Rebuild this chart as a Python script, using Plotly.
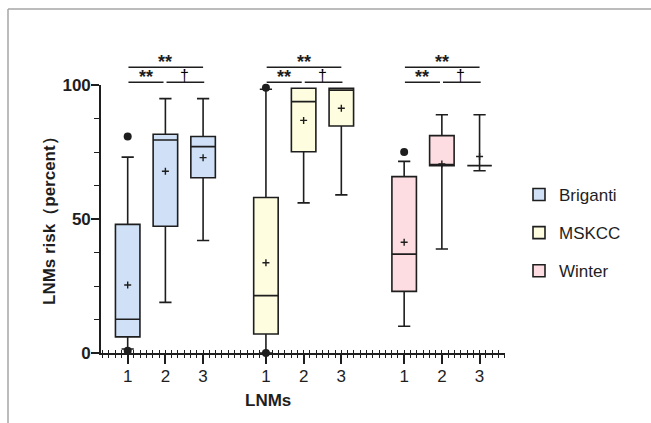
import plotly.graph_objects as go

# ---------------- data ----------------
models = ["Briganti", "MSKCC", "Winter"]
lnm_labels = ["1", "2", "3"]

briganti_q1 = [6.0, 47.3, 65.4]
briganti_median = [12.6, 79.5, 77.0]
briganti_q3 = [48.0, 81.6, 80.8]
briganti_low = [1.5, 18.9, 42.0]
briganti_high = [73.1, 94.9, 94.9]
briganti_mean = [25.4, 67.8, 72.9]
briganti_outliers = [[80.8, 0.8], [], []]

mskcc_q1 = [7.1, 75.1, 84.7]
mskcc_median = [21.4, 93.8, 98.1]
mskcc_q3 = [58.0, 98.8, 98.8]
mskcc_low = [0.0, 56.0, 59.0]
mskcc_high = [98.4, 98.8, 98.8]
mskcc_mean = [33.7, 86.8, 91.3]
mskcc_outliers = [[99.0, 0.0], [], []]

winter_q1 = [23.0, 69.9, 69.9]
winter_median = [36.9, 69.9, 69.9]
winter_q3 = [65.8, 81.1, 69.9]
winter_low = [10.0, 38.8, 68.0]
winter_high = [71.5, 88.9, 88.9]
winter_mean = [41.3, 70.5, 73.3]
winter_outliers = [[75.0], [], []]

# significance labels per group: (1 vs 3, 1 vs 2, 2 vs 3)
sig_top = ["**", "**", "**"]
sig_left = ["**", "**", "**"]
sig_right = ["†", "†", "†"]

# ---------------- styling ----------------
fills = ["#cfe0f7", "#fefde0", "#fddde1"]
ink = "#1e1e1e"
group_step = 11 / 3  # distance between group centres (in box units)

series = [
    (briganti_q1, briganti_median, briganti_q3, briganti_low, briganti_high, briganti_mean, briganti_outliers),
    (mskcc_q1, mskcc_median, mskcc_q3, mskcc_low, mskcc_high, mskcc_mean, mskcc_outliers),
    (winter_q1, winter_median, winter_q3, winter_low, winter_high, winter_mean, winter_outliers),
]

fig = go.Figure()
all_pos = []
for gi, (name, s) in enumerate(zip(models, series)):
    q1, med, q3, lo, hi, mean, outl = s
    xs = [gi * group_step + k for k in range(len(lnm_labels))]
    all_pos += xs
    fig.add_trace(go.Box(
        name=name, x=xs, q1=q1, median=med, q3=q3,
        lowerfence=lo, upperfence=hi,
        width=0.65, whiskerwidth=0.5,
        fillcolor=fills[gi], line=dict(color=ink, width=1.6),
        boxpoints=False, legendgroup=name, hoverinfo="skip",
    ))
    # means as "+"
    fig.add_trace(go.Scatter(
        x=xs, y=mean, mode="markers", showlegend=False, cliponaxis=False,
        marker=dict(symbol="cross-thin", size=5, line=dict(color=ink, width=1.4)),
        hoverinfo="skip",
    ))
    # outliers
    ox, oy = [], []
    for k, vals in enumerate(outl):
        for v in vals:
            ox.append(xs[k])
            oy.append(v)
    if ox:
        fig.add_trace(go.Scatter(
            x=ox, y=oy, mode="markers", showlegend=False, cliponaxis=False,
            marker=dict(symbol="circle", size=8, color=ink),
            hoverinfo="skip",
        ))

# ---------------- layout geometry ----------------
W, H = 651, 423
L, R, T, B = 101, 146, 85, 70
pw, ph = W - L - R, H - T - B
xmin, xmax = -0.708, 10.008

def px_to_paper_x(px):
    return (px - L) / pw

def px_to_paper_y(py):
    return (H - B - py) / ph

shapes = []
annotations = []
y_top = 1.066
y_low = 1.010
for gi in range(len(models)):
    c0 = gi * group_step
    for (a, b, yy) in [(0.02, 2.0, y_top), (0.02, 0.95, y_low), (1.03, 2.03, y_low)]:
        shapes.append(dict(type="line", xref="x", yref="paper",
                           x0=c0 + a, x1=c0 + b, y0=yy, y1=yy,
                           line=dict(color=ink, width=1.4)))
    annotations.append(dict(x=c0 + 1.0, y=y_top, xref="x", yref="paper", text="<b>" + sig_top[gi] + "</b>",
                            showarrow=False, yanchor="bottom", yshift=-7,
                            font=dict(size=18, color=ink, family="Arial")))
    annotations.append(dict(x=c0 + 0.48, y=y_low, xref="x", yref="paper", text="<b>" + sig_left[gi] + "</b>",
                            showarrow=False, yanchor="bottom", yshift=-7,
                            font=dict(size=18, color=ink, family="Arial")))
    annotations.append(dict(x=c0 + 1.5, y=y_low, xref="x", yref="paper", text=sig_right[gi],
                            showarrow=False, yanchor="bottom", yshift=-4,
                            font=dict(size=16, color="#000000", family="Liberation Sans")))

# axis titles (annotations, placed like the original)
annotations.append(dict(x=px_to_paper_x(268), y=px_to_paper_y(400), xref="paper", yref="paper",
                        text="<b>LNMs</b>", showarrow=False, yanchor="middle", xanchor="center",
                        font=dict(size=17, color=ink, family="Arial")))
annotations.append(dict(x=px_to_paper_x(49), y=px_to_paper_y(217), xref="paper", yref="paper",
                        text="<b>LNMs risk（percent）</b>", showarrow=False, textangle=-90,
                        xanchor="center", yanchor="middle",
                        font=dict(size=17, color=ink, family="Arial")))

# outer frame lines
fx0, fy_top, fx1, fy_bot = px_to_paper_x(8), px_to_paper_y(9), px_to_paper_x(W), px_to_paper_y(H)
shapes.append(dict(type="line", xref="paper", yref="paper", x0=fx0, x1=fx1, y0=fy_top, y1=fy_top,
                   line=dict(color="#a6a6a6", width=1.5)))
shapes.append(dict(type="line", xref="paper", yref="paper", x0=fx0, x1=fx0, y0=fy_top, y1=fy_bot,
                   line=dict(color="#a6a6a6", width=1.5)))

minor_x = [i / 6 for i in range(-4, 61)]

fig.update_layout(
    width=W, height=H,
    margin=dict(l=L, r=R, t=T, b=B, pad=0),
    paper_bgcolor="white", plot_bgcolor="white",
    boxmode="overlay",
    font=dict(family="Arial", size=17, color=ink),
    showlegend=True,
    legend=dict(x=px_to_paper_x(519), y=px_to_paper_y(233), xanchor="left", yanchor="middle",
                traceorder="grouped", tracegroupgap=13,
                font=dict(size=17, color=ink, family="Arial"), bgcolor="rgba(0,0,0,0)"),
    xaxis=dict(range=[xmin, xmax], showgrid=False, zeroline=False,
               showline=True, linecolor=ink, linewidth=1.6,
               tickmode="array", tickvals=all_pos, ticktext=lnm_labels * len(models),
               ticks="outside", ticklen=9, tickwidth=1.6, tickcolor=ink,
               ticklabelstandoff=-2,
               tickfont=dict(size=17, color=ink),
               minor=dict(tickmode="array", tickvals=minor_x, ticks="outside",
                          ticklen=3, tickwidth=1.2, tickcolor=ink)),
    xaxis2=dict(range=[xmin, xmax], overlaying="x", anchor="y", side="bottom",
                showgrid=False, zeroline=False, showline=False, showticklabels=False,
                tickmode="array", tickvals=minor_x, ticks="inside",
                ticklen=3, tickwidth=1.2, tickcolor=ink),
    yaxis=dict(range=[0, 100], showgrid=False, zeroline=False,
               showline=True, linecolor=ink, linewidth=1.6,
               tickmode="array", tickvals=[0, 50, 100], ticktext=["<b>0</b>", "<b>50</b>", "<b>100</b>"],
               ticks="outside", ticklen=8, tickwidth=1.6, tickcolor=ink,
               ticklabelstandoff=-3,
               tickfont=dict(size=17, color=ink),
               minor=dict(tickmode="array", tickvals=[12.5, 25, 37.5, 62.5, 75, 87.5],
                          ticks="outside", ticklen=5, tickwidth=1.4, tickcolor=ink)),
    shapes=shapes,
    annotations=annotations,
)

# dummy trace to activate xaxis2 (inside minor ticks)
fig.add_trace(go.Scatter(x=[xmin], y=[None], xaxis="x2", yaxis="y", showlegend=False,
                         hoverinfo="skip", mode="markers"))

fig.write_html("out.html", config={"displayModeBar": False},
               post_script="document.body.style.margin='0px';document.body.style.padding='0px';")
